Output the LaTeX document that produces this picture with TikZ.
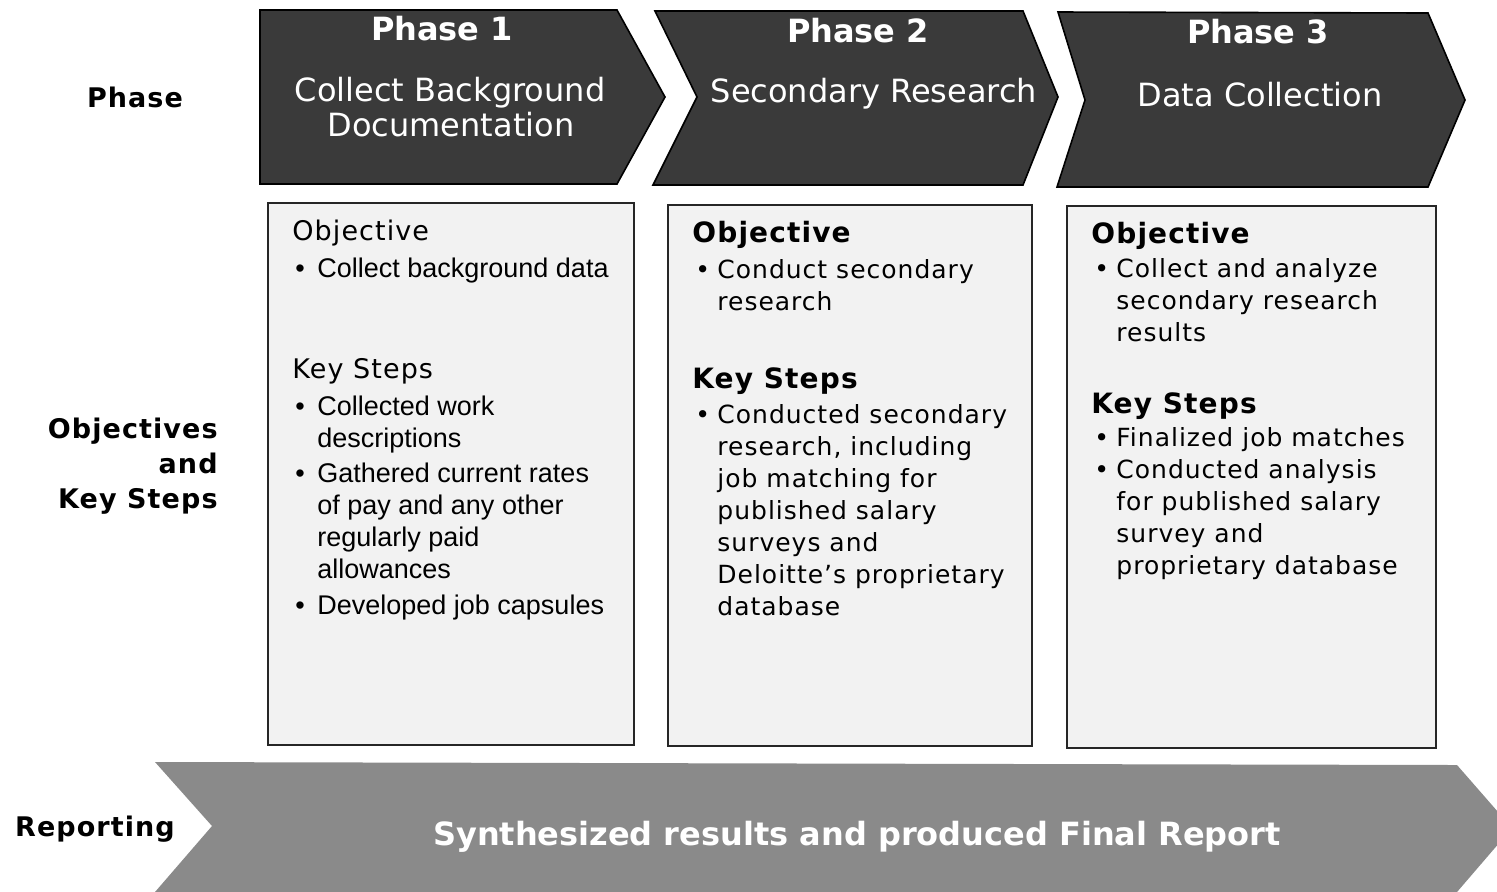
\documentclass[tikz,border=0pt]{standalone}
\usepackage{fontspec}
\setmainfont{DejaVu Sans}
\newfontfamily\verdsp[LetterSpace=4]{DejaVu Sans}
\newfontfamily\arialf{Liberation Sans}

\definecolor{phasegrey}{HTML}{3A3A3A}
\definecolor{reportgrey}{HTML}{8A8A8A}
\definecolor{boxgrey}{HTML}{F2F2F2}

\newcommand{\bulitem}{\makebox[12.5pt][l]{\hspace{1.5pt}\textbullet}}
\newcommand{\contline}{\hspace*{12.5pt}}

\tikzset{
    chevron/.style={fill=phasegrey, draw=black, line width=0.8pt},
    stepbox/.style={fill=boxgrey, draw=black!85, line width=0.8pt},
    phasetitle/.style={text=white, inner sep=0pt, anchor=base, font=\bfseries\fontsize{16}{19}\selectfont},
    phasename/.style={text=white, inner sep=0pt, anchor=base, font=\fontsize{16}{17.5}\selectfont},
    rowlabel/.style={inner sep=0pt, font=\verdsp\bfseries\fontsize{13.5}{17.5}\selectfont},
    headA/.style={inner sep=0pt, anchor=base west, font=\verdsp\fontsize{13.5}{16}\selectfont},
    headB/.style={inner sep=0pt, anchor=base west, font=\verdsp\bfseries\fontsize{14}{16}\selectfont},
    listA/.style={inner sep=0pt, anchor=base west, font=\arialf\fontsize{13.5}{16}\selectfont},
    listB/.style={inner sep=0pt, anchor=base west, font=\verdsp\fontsize{12.5}{16}\selectfont}
}

\begin{document}
\begin{tikzpicture}[x=0.5pt, y=-0.5pt]
    \useasboundingbox (0,0) rectangle (1497,891);

    % phase arrows
    \draw[chevron] (260,10) -- (617,10) -- (665,97) -- (617,184) -- (260,184) -- cycle;
    \draw[chevron] (655,11) -- (1023,11) -- (1058,97) -- (1023,185) -- (653,185) -- (697,97) -- cycle;
    \draw[chevron] (1058,12) -- (1428,13) -- (1465,100) -- (1428,187) -- (1057,187) -- (1085,100) -- cycle;

    \node[phasetitle] (p1) at (442,40) {Phase 1};
    \node[phasename] (p1a) at (450,101) {Collect Background};
    \node[phasename] (p1b) at (451,136) {Documentation};
    \node[phasetitle] (p2) at (858,42) {Phase 2};
    \node[phasename] (p2a) at (874,102) {Secondary Research};
    \node[phasetitle] (p3) at (1258,43) {Phase 3};
    \node[phasename] (p3a) at (1260,106) {Data Collection};

    % row labels
    \node[rowlabel] (phase) at (135,97) {Phase};
    \node[rowlabel, anchor=east, align=right] (objsteps) at (218,466) {Objectives\\and\\Key Steps};
    \node[rowlabel, anchor=base] (reporting) at (95,836) {Reporting};

    % step boxes
    \draw[stepbox] (268,203) rectangle (634,745);
    \draw[stepbox] (668,205) rectangle (1032,746);
    \draw[stepbox] (1067,206) rectangle (1436,748);

    \node[headA] (obj1) at (292,240) {Objective};
    \node[listA] (objlist1) at (292,277) {\parbox[t]{170pt}{\bulitem Collect background data}};
    \node[headA] (steps1) at (292,378) {Key Steps};
    \node[listA] (stepslist1) at (292,415) {\parbox[t]{170pt}{%
        \bulitem Collected work\\ \contline descriptions\\[1.5pt]
        \bulitem Gathered current rates\\ \contline of pay and any other\\
        \contline regularly paid\\ \contline allowances\\[2pt]
        \bulitem Developed job capsules}};

    \node[headB] (obj2) at (692,242) {Objective};
    \node[listB] (objlist2) at (692,278) {\parbox[t]{170pt}{%
        \bulitem Conduct secondary\\ \contline research}};
    \node[headB] (steps2) at (692,388) {Key Steps};
    \node[listB] (stepslist2) at (692,423) {\parbox[t]{170pt}{%
        \bulitem Conducted secondary\\ \contline research, including\\
        \contline job matching for\\ \contline published salary\\
        \contline surveys and\\ \contline Deloitte’s proprietary\\
        \contline database}};

    \node[headB] (obj3) at (1091,243) {Objective};
    \node[listB] (objlist3) at (1091,277) {\parbox[t]{170pt}{%
        \bulitem Collect and analyze\\ \contline secondary research\\
        \contline results}};
    \node[headB] (steps3) at (1091,413) {Key Steps};
    \node[listB] (stepslist3) at (1091,446) {\parbox[t]{170pt}{%
        \bulitem Finalized job matches\\
        \bulitem Conducted analysis\\ \contline for published salary\\
        \contline survey and\\ \contline proprietary database}};

    % reporting banner
    \fill[reportgrey] (155,762) -- (1457,765) -- (1512,828) -- (1457,892) -- (155,892) -- (212,826) -- cycle;
    \node[phasetitle] (report) at (857,845) {Synthesized results and produced Final Report};
\end{tikzpicture}
\end{document}
